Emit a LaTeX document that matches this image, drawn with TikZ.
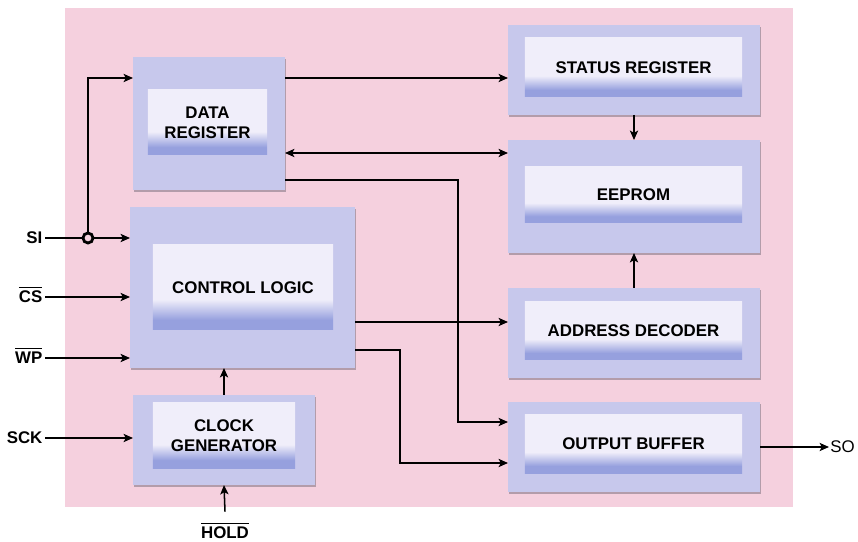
\documentclass[tikz,border=0pt]{standalone}
\usepackage{fontspec}
\setmainfont{Liberation Sans}
\usepackage{tikz}
\usetikzlibrary{arrows.meta,shadows}
\definecolor{bgpink}{RGB}{245,208,222}
\definecolor{boxlav}{RGB}{199,200,236}
\definecolor{panelwhite}{RGB}{240,238,250}
\definecolor{panelblue}{RGB}{150,160,222}
% light panel with a blue strip at its foot
\pgfdeclareverticalshading{panelshade}{100bp}{color(0bp)=(panelblue); color(25bp)=(panelblue); color(31bp)=(panelblue); color(43bp)=(panelwhite); color(100bp)=(panelwhite)}
% active-low pin names
\newcommand\lowpin[1]{$\overline{\hbox{\strut #1}}$}

\begin{document}
\begin{tikzpicture}[x=0.03cm,y=-0.03cm]
	\tikzset{
		blk/.style={fill=boxlav, inner sep=0pt, outer sep=0pt,
			drop shadow={shadow xshift=1.2pt, shadow yshift=-1.5pt,
				opacity=0.4, fill=black!60!boxlav}},
		pnl/.style={shading=panelshade, inner sep=0pt, outer sep=0pt,
			align=center, font=\bfseries\fontsize{14.4}{17}\selectfont},
		lbl/.style={inner sep=2pt, text height=10pt, text depth=0pt,
			font=\bfseries\fontsize{14.4}{17}\selectfont},
		sig/.style={-{Stealth[length=8pt,width=7pt,inset=1.8pt]},
			line width=1.3pt},
		bisig/.style={{Stealth[length=8pt,width=7pt,inset=1.8pt]}-{Stealth[length=8pt,width=7pt,inset=1.8pt]},
			line width=1.3pt},
		jct/.style={circle, draw, fill=bgpink, line width=2.4pt,
			minimum size=0.3cm, inner sep=0pt}
	}
	
	\useasboundingbox (0,0) rectangle (858,542);
	\fill[bgpink] (65,8) rectangle (793,507);
	
	% LEFT COLUMN
	\node[blk, minimum width=4.56cm, minimum height=3.99cm] (dreg) at (209,123.5) {};
	\node[pnl, minimum width=3.57cm, minimum height=1.95cm] (dregT) at (207.5,122.5) {DATA\\REGISTER};
	\node[blk, minimum width=6.75cm, minimum height=4.83cm] (ctrl) at (242.5,287.5) {};
	\node[pnl, minimum width=5.4cm, minimum height=2.55cm] (ctrlT) at (243,287.5) {CONTROL LOGIC};
	\node[blk, minimum width=5.46cm, minimum height=2.7cm] (clk) at (224,440) {};
	\node[pnl, minimum width=4.26cm, minimum height=1.95cm] (clkT) at (224,435.5) {CLOCK\\GENERATOR};
	
	% RIGHT COLUMN
	\node[blk, minimum width=7.56cm, minimum height=2.7cm] (sreg) at (634,70) {};
	\node[pnl, minimum width=6.51cm, minimum height=1.77cm] (sregT) at (633.5,67.5) {STATUS REGISTER};
	\node[blk, minimum width=7.56cm, minimum height=3.39cm] (eep) at (634,196.5) {};
	\node[pnl, minimum width=6.51cm, minimum height=1.68cm] (eepT) at (633.5,195) {EEPROM};
	\node[blk, minimum width=7.56cm, minimum height=2.7cm] (adec) at (634,333) {};
	\node[pnl, minimum width=6.51cm, minimum height=1.74cm] (adecT) at (633.5,331) {ADDRESS DECODER};
	\node[blk, minimum width=7.56cm, minimum height=2.7cm] (obuf) at (634,447) {};
	\node[pnl, minimum width=6.51cm, minimum height=1.74cm] (obufT) at (633.5,444) {OUTPUT BUFFER};
	
	% PINS
	\node[lbl, anchor=east] (si) at (45,238) {SI};
	\node[lbl, anchor=east] (cs) at (45,297) {\lowpin{CS}};
	\node[lbl, anchor=east] (wp) at (45,358) {\lowpin{WP}};
	\node[lbl, anchor=east] (sck) at (45,438) {SCK};
	\node[lbl] (hold) at (225,533) {\lowpin{HOLD}};
	\node[lbl, anchor=west, inner sep=1pt, font=\fontsize{14.4}{17}\selectfont] (so) at (829,447) {SO};
	\node[jct] (jn) at (88,238) {};
	
	\draw[line width=1.3pt] (si) -- (jn);
	\draw[sig] (jn) -- (jn -| ctrl.west);
	\draw[sig] (jn) |- (dreg.west |- 0,78);
	\draw[sig] (cs) -- (cs -| ctrl.west);
	\draw[sig] (wp) -- (wp -| ctrl.west);
	\draw[sig] (sck) -- (sck -| clk.west);
	\draw[sig] ([yshift=11pt]hold.north) -- (clk.south);
	\draw[sig] (clk.north) -- (clk.north |- ctrl.south);
	
	% BUSES
	\coordinate (bend1) at (458,422);
	\coordinate (bend2) at (400,463);
	\draw[sig] (dreg.east |- 0,78) -- (sreg.west |- 0,78);
	\draw[bisig] (dreg.east |- 0,153) -- (eep.west |- 0,153);
	\draw[sig] (dreg.east |- 0,180) -| (bend1) -- (obuf.west |- bend1);
	\draw[sig] (ctrl.east |- 0,322) -- (adec.west |- 0,322);
	\draw[sig] (ctrl.east |- 0,350) -| (bend2) -- (obuf.west |- bend2);
	\draw[sig] (sreg.south) -- (eep.north);
	\draw[sig] (adec.north) -- (eep.south);
	\draw[sig] (obuf.east |- so) -- (so);
\end{tikzpicture}
\end{document}
